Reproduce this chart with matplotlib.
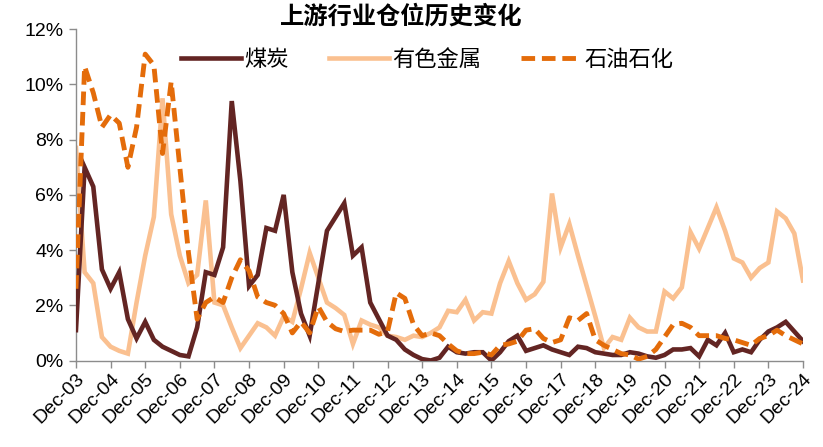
import matplotlib
matplotlib.use("Agg")
import matplotlib.pyplot as plt
from matplotlib.ticker import FuncFormatter
import numpy as np

plt.rcParams['font.family'] = ['Liberation Sans', 'Noto Sans CJK SC', 'DejaVu Sans']

title = "上游行业仓位历史变化"
series_names = ["煤炭", "有色金属", "石油石化"]
years = list(range(3, 25))
tick_labels = ["Dec-%02d" % y for y in years]

coal = [1.1, 7.0, 6.3, 3.3, 2.6, 3.2, 1.5, 0.8, 1.4, 0.75, 0.5, 0.35,
        0.2, 0.15, 1.2, 3.2, 3.1, 4.1, 9.4, 6.5, 2.7, 3.1, 4.8, 4.7,
        6.0, 3.2, 1.7, 0.9, 2.8, 4.7, 5.2, 5.7, 3.8, 4.1, 2.1, 1.5,
        0.9, 0.75, 0.4, 0.2, 0.05, 0.0, 0.1, 0.5, 0.3, 0.25, 0.3, 0.3,
        0.0, 0.3, 0.7, 0.9, 0.35, 0.45, 0.55, 0.4, 0.3, 0.2, 0.5, 0.45,
        0.3, 0.25, 0.2, 0.2, 0.3, 0.25, 0.15, 0.1, 0.2, 0.4, 0.4, 0.45,
        0.15, 0.75, 0.55, 1.0, 0.3, 0.4, 0.3, 0.75, 1.05, 1.2, 1.4, 1.05,
        0.7]

metals = [7.7, 3.2, 2.8, 0.85, 0.5, 0.35, 0.25, 2.1, 3.8, 5.2, 9.5, 5.3,
          3.8, 2.8, 3.1, 5.8, 2.1, 2.0, 1.2, 0.45, 0.9, 1.35, 1.2, 0.9,
          1.6, 1.4, 2.6, 3.9, 3.0, 2.1, 1.9, 1.65, 0.6, 1.45, 1.3, 1.2,
          0.9, 0.85, 0.75, 0.9, 0.85, 1.0, 1.2, 1.8, 1.75, 2.2, 1.45, 1.75,
          1.7, 2.8, 3.6, 2.8, 2.2, 2.4, 2.85, 6.05, 4.1, 4.95, 3.8, 2.7,
          1.6, 0.45, 0.85, 0.75, 1.55, 1.2, 1.05, 1.05, 2.5, 2.25, 2.65, 4.65,
          4.05, 4.8, 5.55, 4.7, 3.7, 3.55, 3.0, 3.35, 3.55, 5.4, 5.15, 4.6,
          2.9]

oil = [2.6, 10.65, 9.7, 8.45, 8.9, 8.6, 7.0, 8.45, 11.1, 10.7, 7.5, 10.1,
       7.0, 3.9, 1.5, 2.1, 2.3, 2.1, 3.0, 3.65, 3.25, 2.3, 2.1, 2.0,
       1.7, 1.0, 1.4, 1.0, 1.95, 1.4, 1.15, 1.05, 1.1, 1.1, 1.1, 0.95,
       1.05, 2.45, 2.25, 1.3, 0.9, 1.0, 0.9, 0.6, 0.35, 0.25, 0.25, 0.3,
       0.2, 0.55, 0.6, 0.7, 1.1, 1.15, 0.8, 0.65, 0.75, 1.55, 1.45, 1.7,
       0.75, 0.55, 0.4, 0.25, 0.2, 0.05, 0.15, 0.4, 0.85, 1.3, 1.35, 1.2,
       0.9, 0.9, 0.9, 0.8, 0.75, 0.65, 0.55, 0.8, 0.9, 1.1, 0.9, 0.75,
       0.6]

colors = ["#632523", "#FAC090", "#E46C0A"]

fig = plt.figure(figsize=(8.23, 4.47), dpi=100)
ax = fig.add_axes([0.0923, 0.1935, 0.8834, 0.741])

x = np.arange(len(coal))
ax.plot(x, coal, color=colors[0], lw=3.3, label=series_names[0], zorder=3,
        solid_joinstyle='miter')
ax.plot(x, metals, color=colors[1], lw=3.3, label=series_names[1], zorder=2,
        solid_joinstyle='miter')
ax.plot(x, oil, color=colors[2], lw=3.5, label=series_names[2], zorder=4,
        dashes=(2.8, 1.4))

ax.set_xlim(0, len(coal) - 1)
ax.set_ylim(0, 12)
ax.set_yticks(np.arange(0, 13, 2))
ax.yaxis.set_major_formatter(FuncFormatter(lambda v, p: "%d%%" % v))
ax.set_xticks(np.arange(0, len(coal), 4))
ax.set_xticklabels(tick_labels, rotation=45, ha='right', va='top',
                   rotation_mode='anchor')

for s in ['top', 'right']:
    ax.spines[s].set_visible(False)
for s in ['left', 'bottom']:
    ax.spines[s].set_color('#8c8c8c')
    ax.spines[s].set_linewidth(1.0)
ax.tick_params(axis='both', colors='#8c8c8c', labelcolor='black',
               labelsize=14, length=5, width=1.0, direction='out')
ax.tick_params(axis='x', pad=2)
ax.tick_params(axis='y', pad=4)

fig.text(0.487, 0.963, title, fontsize=17.5, fontweight='bold',
         ha='center', va='center')

leg = ax.legend(loc='center', bbox_to_anchor=(0.483, 0.905), ncol=3,
                frameon=False, fontsize=16, handlelength=2.7,
                handletextpad=0.15, columnspacing=1.8, borderaxespad=0)

fig.savefig("out.png", dpi=100)
